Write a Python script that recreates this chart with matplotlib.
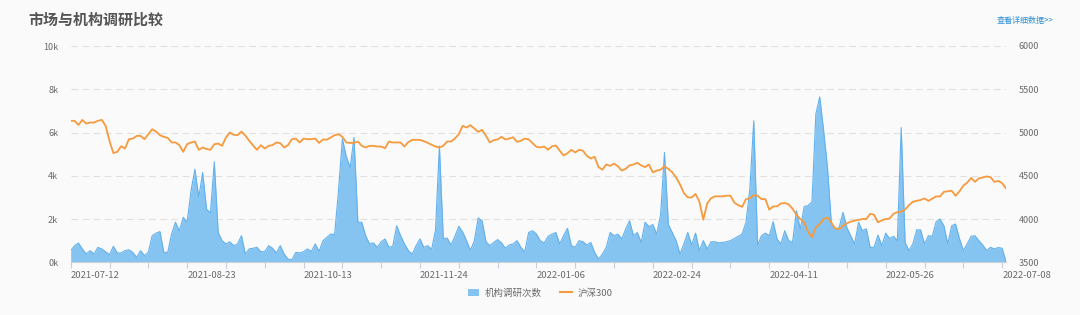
import matplotlib.pyplot as plt
from matplotlib.patches import Patch
from matplotlib.lines import Line2D
import numpy as np

plt.rcParams['font.family'] = ['Noto Sans CJK SC', 'DejaVu Sans']

# 机构调研次数 (thousands), one value per trading day
visits_k = [
    0.54, 0.77, 0.89, 0.62, 0.38, 0.54, 0.38, 0.69, 0.62, 0.49, 0.35, 0.74, 0.43, 0.43, 0.54, 0.58,
    0.46, 0.23, 0.54, 0.31, 0.46, 1.23, 1.35, 1.42, 0.46, 0.46, 1.31, 1.85, 1.46, 2.08, 1.85,
    3.3, 4.3, 3.0, 4.15, 2.46, 2.28, 4.65, 1.38, 1.0, 0.85, 0.95, 0.77, 0.85, 1.23, 0.38, 0.62,
    0.65, 0.69, 0.49, 0.49, 0.77, 0.65, 0.43, 0.77, 0.38, 0.15, 0.12, 0.46, 0.43, 0.49, 0.62,
    0.5, 0.85, 0.5, 1.0, 1.15, 1.31, 1.28, 3.3, 5.7, 4.9, 4.38, 5.77, 1.85, 1.85, 1.23, 0.85,
    0.9, 0.69, 0.95, 1.08, 0.69, 0.75, 1.69, 1.23, 0.85, 0.54, 0.38, 0.77, 1.08, 0.69, 0.77,
    0.6, 1.5, 5.38, 1.1, 1.12, 0.8, 1.2, 1.66, 1.4, 1.0, 0.55, 1.0, 2.05, 1.92, 0.95, 0.77,
    0.92, 1.05, 0.9, 0.65, 0.8, 0.85, 1.0, 0.69, 0.49, 1.38, 1.46, 1.31, 1.0, 0.89, 1.2,
    1.3, 1.38, 0.85, 1.23, 1.57, 0.77, 0.7, 1.0, 0.95, 0.8, 0.92, 0.46, 0.15, 0.38, 0.69, 1.38,
    1.23, 1.3, 1.08, 1.54, 1.92, 1.23, 1.38, 0.92, 1.85, 1.65, 1.75, 1.3, 2.2, 5.08, 1.75, 1.38,
    1.0, 0.38, 0.85, 1.38, 0.8, 1.35, 0.54,
    1.0, 0.62, 0.95, 0.95, 0.9, 0.92, 0.95, 1.0, 1.1, 1.2, 1.31, 1.85, 3.4, 6.54, 0.8, 1.23,
    1.35, 1.23, 1.88, 1.08, 0.85, 1.46, 1.0, 0.92, 2.38, 1.54, 2.58, 2.62, 2.8, 6.85, 7.65, 6.1,
    4.38, 1.8, 1.54, 1.6, 2.31, 1.6, 1.23, 0.85, 1.85, 1.46, 1.55, 0.69, 0.69, 1.26, 0.77, 1.35,
    1.1, 1.2, 1.0, 6.23, 0.92, 0.54, 0.85, 1.5, 1.5, 0.85, 1.23, 1.2, 1.88, 2.0, 1.69, 0.85,
    1.69, 1.77, 1.1, 0.55, 0.85, 1.2, 1.23, 1.0, 0.8, 0.55, 0.69, 0.62, 0.68, 0.65, 0.03,
]

# 沪深300 close
hs300 = [
    5135, 5135, 5088, 5146, 5104, 5115, 5115, 5135, 5146, 5077, 4904, 4762, 4777, 4842, 4815, 4923,
    4930, 4961, 4961, 4923, 4981, 5038, 5011, 4969, 4950, 4938, 4885, 4885, 4854, 4777, 4865,
    4885, 4896, 4800, 4827, 4810, 4800, 4865, 4872, 4846, 4942, 5000, 4973, 4970, 5011, 4965, 4904,
    4850, 4800, 4854, 4815, 4846, 4854, 4885, 4877, 4827, 4854, 4923, 4930, 4885, 4930, 4923,
    4923, 4930, 4880, 4920, 4918, 4942, 4969, 4981, 4950, 4885, 4880, 4880, 4896, 4846, 4827, 4846,
    4846, 4838, 4838, 4819, 4896, 4885, 4885, 4885, 4838, 4890, 4915, 4915, 4915, 4900, 4880,
    4858, 4838, 4827, 4846, 4896, 4896, 4930, 4981, 5077, 5058, 5085, 5046, 5008, 5031, 4962, 4885,
    4912, 4920, 4950, 4920, 4930, 4945, 4892, 4905, 4930, 4920, 4877, 4835, 4827, 4838, 4800,
    4840, 4850, 4790, 4735, 4760, 4800, 4770, 4800, 4790, 4730, 4700, 4720, 4600, 4570, 4630, 4615,
    4640, 4610, 4560, 4580, 4620, 4630, 4650, 4620, 4600, 4630, 4540, 4560, 4570, 4610, 4580, 4540,
    4480, 4400, 4300, 4250, 4250, 4290, 4200,
    3992, 4180, 4240, 4262, 4262, 4262, 4270, 4270, 4190, 4160, 4140, 4230, 4240, 4277, 4270, 4230,
    4230, 4108, 4146, 4146, 4180, 4185, 4170, 4120, 4050, 4000, 3962, 3850, 3790, 3904, 3942, 4000,
    4019, 3960, 3890, 3885, 3920, 3950, 3970, 3981, 3990, 4000, 4000, 4060, 4050, 3962, 3985, 4000,
    4005, 4060, 4080, 4085, 4110, 4160, 4200, 4211, 4220, 4238, 4210, 4235, 4262, 4260, 4315, 4320,
    4327, 4269, 4320, 4385, 4420, 4475, 4430, 4470, 4480, 4492, 4485, 4430, 4440, 4415, 4354,
]

date_labels = ['2021-07-12', '2021-08-23', '2021-10-13', '2021-11-24', '2022-01-06',
               '2022-02-24', '2022-04-11', '2022-05-26', '2022-07-08']
left_ticks = [0, 2, 4, 6, 8, 10]
right_ticks = [3500, 4000, 4500, 5000, 5500, 6000]

blue = '#85c3f0'
blue_edge = '#63b1ec'
orange = '#f79a3e'
bg = '#fafafa'
txt = '#6a6a6a'

x = np.arange(len(visits_k))

fig = plt.figure(figsize=(10.8, 3.15), dpi=100, facecolor=bg)
ax = fig.add_axes([70.7 / 1080, 1 - 262.3 / 315, (1006 - 70.7) / 1080, (262.3 - 46) / 315])
ax.set_facecolor(bg)

ax.fill_between(x, 0, visits_k, color=blue, lw=0, zorder=2)
ax.plot(x, visits_k, color=blue_edge, lw=0.8, zorder=3)
ax.set_xlim(0, len(x) - 1)
ax.set_ylim(0, 10)
ax.set_yticks(left_ticks)
ax.set_yticklabels([f'{t}k' for t in left_ticks])
for t in left_ticks[1:]:
    ax.axhline(t, color='#e0e0e0', lw=0.8, ls=(0, (6, 4)), zorder=1)

xt = list(range(0, 241, 10))
ax.set_xticks(xt)
labs = []
for v in xt:
    labs.append(date_labels[v // 30] if v % 30 == 0 else '')
ax.set_xticklabels(labs, ha='left')
ax.tick_params(axis='x', length=4, color='#c8d0dc', labelsize=6.8, labelcolor=txt, pad=2)
ax.tick_params(axis='y', length=0, labelsize=6.5, labelcolor=txt, pad=9)

for s in ['top', 'right', 'left']:
    ax.spines[s].set_visible(False)
ax.spines['bottom'].set_color('#c8d0dc')

ax2 = ax.twinx()
ax2.plot(x, hs300, color=orange, lw=1.3, zorder=4)
ax2.set_ylim(3500, 6000)
ax2.set_yticks(right_ticks)
ax2.tick_params(axis='y', length=0, labelsize=6.5, labelcolor=txt, pad=9)
for s in ax2.spines.values():
    s.set_visible(False)

fig.text(28 / 1080, 1 - 20 / 315, '市场与机构调研比较', fontsize=10.8, fontweight='bold',
         color='#555555', va='center', ha='left')
fig.text(1053 / 1080, 1 - 21 / 315, '查看详细数据>>', fontsize=5.8, color='#2b8fd6',
         va='center', ha='right')

handles = [Patch(facecolor=blue, edgecolor='none'), Line2D([], [], color=orange, lw=1.5)]
fig.legend(handles, ['机构调研次数', '沪深300'], loc='center', bbox_to_anchor=(0.5, 1 - 293 / 315),
           ncol=2, frameon=False, fontsize=6.8, labelcolor=txt, handlelength=1.2,
           handleheight=0.9, columnspacing=2.0, handletextpad=0.6)

fig.savefig('out.png', dpi=100, facecolor=bg)
